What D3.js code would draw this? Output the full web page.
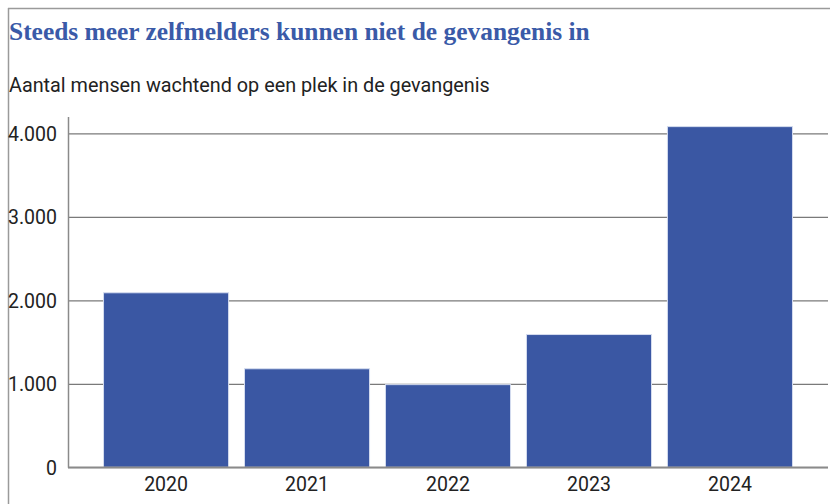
<!DOCTYPE html>
<html><head><meta charset="utf-8">
<script src="https://cdn.jsdelivr.net/npm/d3@7"></script>
<style>
html,body{margin:0;padding:0;background:#fff;}
svg{display:block;}
</style></head>
<body>
<script>
const title = "Steeds meer zelfmelders kunnen niet de gevangenis in";
const subtitle = "Aantal mensen wachtend op een plek in de gevangenis";
const years = ["2020","2021","2022","2023","2024"];
const values = [2090, 1180, 990, 1590, 4080];
const yTicks = [0, 1000, 2000, 3000, 4000];

const W = 830, H = 504;
const svg = d3.select("body").append("svg").attr("width", W).attr("height", H);

// frame
svg.append("line").attr("x1", 8).attr("x2", W).attr("y1", 8.5).attr("y2", 8.5)
  .attr("stroke", "#9a9a9a").attr("stroke-width", 1.5);
svg.append("line").attr("x1", 8.5).attr("x2", 8.5).attr("y1", 8).attr("y2", H)
  .attr("stroke", "#9a9a9a").attr("stroke-width", 1.5);

// title
const t = svg.append("text").attr("x", 9).attr("y", 40)
  .attr("font-family", "'Liberation Serif', 'DejaVu Serif', serif")
  .attr("font-weight", "bold").attr("font-size", 22).attr("fill", "#3a5aa8").text(title);
const tl = t.node().getComputedTextLength();
t.attr("font-size", 22 * 581 / tl);

const s = svg.append("text").attr("x", 9).attr("y", 92)
  .attr("font-family", "Roboto, sans-serif").attr("font-size", 19).attr("fill", "#222").text(subtitle);
const sl = s.node().getComputedTextLength();
s.attr("font-size", 19 * 481 / sl);

const m = {left: 68, right: 2, top: 0, bottom: 0};
const x = d3.scaleBand().domain(years).range([68, 828]).paddingInner(0.113).paddingOuter(0.252);
const y = d3.scaleLinear().domain([0, 4200]).range([467.3, 116.6]);

// gridlines
const grid = svg.append("g").attr("transform", "translate(68,0)")
  .call(d3.axisLeft(y).tickValues(yTicks).tickSize(-760).tickFormat(""));
grid.select(".domain").remove();
grid.selectAll(".tick line").attr("stroke", "#7a7a7a").attr("stroke-width", 1.3);

// bars
svg.append("g").selectAll("rect").data(values).join("rect")
  .attr("x", (d, i) => x(years[i]))
  .attr("width", x.bandwidth())
  .attr("y", d => y(d))
  .attr("height", d => y(0) - y(d))
  .attr("fill", "#3a57a3")
  .attr("stroke", "#d4dcef").attr("stroke-width", 1);

// y axis
const ya = svg.append("g").attr("transform", "translate(68,0)")
  .call(d3.axisLeft(y).tickValues(yTicks).tickSize(0).tickPadding(11)
    .tickFormat(d => d3.format(",")(d).replace(/,/g, ".")));
ya.select(".domain").attr("stroke", "#8a8a8a").attr("stroke-width", 1.5);
ya.selectAll("text").attr("font-family", "Roboto, sans-serif").attr("font-size", 19.5)
  .attr("fill", "#222").attr("dy", "0.36em");

// x axis
const xa = svg.append("g").attr("transform", "translate(0,467.3)")
  .call(d3.axisBottom(x).tickSize(0).tickPadding(10));
xa.select(".domain").attr("d", "M68,0H828").attr("stroke", "#8a8a8a").attr("stroke-width", 1.5);
xa.selectAll("text").attr("font-family", "Roboto, sans-serif").attr("font-size", 19.5)
  .attr("fill", "#222");
</script>
</body></html>
